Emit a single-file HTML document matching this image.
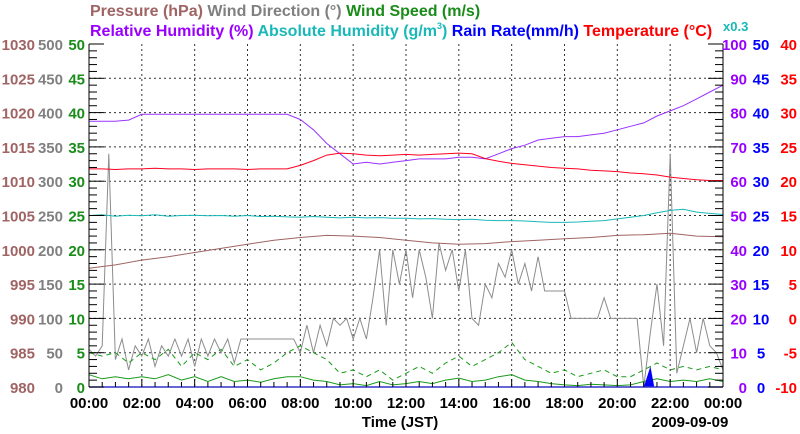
<!DOCTYPE html>
<html><head><meta charset="utf-8">
<style>
html,body{margin:0;padding:0;background:#fff;}
svg{display:block;font-family:"Liberation Sans",Arial,sans-serif;font-weight:bold;}
</style></head>
<body>
<svg id="chart" width="800" height="434" viewBox="0 0 800 434" xmlns="http://www.w3.org/2000/svg">
<g font-size="16">
<text x="90" y="16"><tspan fill="#a06464">Pressure (hPa)</tspan><tspan fill="#808080"> Wind Direction (°)</tspan><tspan fill="#1a8c1a"> Wind Speed (m/s)</tspan></text>
<text x="90" y="36"><tspan fill="#9900ff">Relative Humidity (%)</tspan><tspan fill="#1ab8b8"> Absolute Humidity (g/m<tspan font-size="9" dy="-7">3</tspan><tspan dy="7">)</tspan></tspan><tspan fill="#0000ff"> Rain Rate(mm/h)</tspan><tspan fill="#ff0000"> Temperature (°C)</tspan></text>
<text x="723" y="31" fill="#1ab8b8" font-size="13">x0.3</text>
</g>
<g id="grid"></g>
<g id="series"></g>
<g id="axes"></g>
<text x="400" y="427" text-anchor="middle" font-size="15">Time (JST)</text>
<text x="690" y="427" text-anchor="middle" font-size="15">2009-09-09</text>
</svg>
<script>
// ---- data ----
const hourTicks = ["00:00","02:00","04:00","06:00","08:00","10:00","12:00","14:00","16:00","18:00","20:00","22:00","00:00"];
const pressureTicks = ["980","985","990","995","1000","1005","1010","1015","1020","1025","1030"];
const windDirTicks = ["0","50","100","150","200","250","300","350","400","450","500"];
const windSpeedTicks = ["0","5","10","15","20","25","30","35","40","45","50"];
const rhTicks = ["0","10","20","30","40","50","60","70","80","90","100"];
const rainTicks = ["0","5","10","15","20","25","30","35","40","45","50"];
const tempTicks = ["-10","-5","0","5","10","15","20","25","30","35","40"];
// hourly pressure (hPa), 0..24h
const pressure = [997.3,997.8,998.5,999,999.6,1000.2,1000.8,1001.4,1001.8,1002.1,1002.0,1001.8,1001.4,1001,1000.8,1000.9,1001.2,1001.4,1001.6,1001.8,1002.1,1002.2,1002.4,1002,1001.9];
// half-hourly temperature (°C)
const temperature = [21.8,21.8,21.7,21.8,21.8,21.9,21.8,21.8,21.7,21.8,21.8,21.8,21.7,21.8,21.8,21.8,22.3,23.0,23.8,24.1,24.0,23.8,23.7,23.8,23.9,23.8,23.9,24.0,24.1,24.0,23.3,22.9,22.6,22.4,22.2,22.0,21.9,21.8,21.6,21.5,21.4,21.2,21.1,20.9,20.6,20.4,20.2,20.1,20.1];
// half-hourly relative humidity (%)
const relHumidity = [77.5,77.5,77.5,77.8,79.5,79.5,79.5,79.5,79.5,79.5,79.5,79.5,79.5,79.5,79.5,79.5,78,75,71,68,65,65.5,65,65.5,66,66.5,66.5,66.5,67,67,66.5,68,69.5,70.5,72,72.5,73,73,73.5,74,75,76,77,79,80.5,82,84,86,88];
// half-hourly absolute humidity (x0.3, on RH scale)
const absHumidity = [50,50.2,49.8,50.1,49.9,50.2,49.8,50,50.1,49.9,50,49.8,50,49.7,49.8,49.6,49.5,49.7,49.5,49.3,49.5,49.3,49.4,49.2,49.2,49.0,49.1,48.9,48.8,48.9,48.6,48.5,48.5,48.4,48.2,48.0,48.0,48.1,48.3,48.5,49,49.5,50,50.8,51.5,51.8,51,50.6,50.3];
// 15-minute wind direction (deg)
const windDir = [55,45,60,340,40,70,25,60,45,70,30,60,
 45,70,45,70,30,70,45,70,50,70,35,70,
 70,70,70,70,70,70,70,70,
 50,90,50,90,60,100,90,100,
 70,100,70,130,200,90,200,150,
 200,130,200,160,100,210,170,200,
 140,200,100,90,150,130,180,160,
 200,150,180,140,190,140,140,140,
 140,100,100,100,100,100,130,100,
 100,100,100,100,0,80,150,60,
 340,20,60,100,50,100,60,50,25];
// half-hourly wind speed max and average (m/s)
const windMax = [5,4.5,5,3.5,5,4,5.5,3, 5,4,5.5,3,4,2.5,3.5,5, 6,5,4,2,2.5,1.5,2.5,1, 2,3,2,3.5,4.5,3,4,5, 6.5,4,3,2,2.5,1.5,2,2.5, 1.5,1.5,2.5,3.5,2.5,3,2.5,3, 2.5];
const windAvg = [1.8,1.2,1.5,1.2,1.5,1.2,1.8,1.0, 1.5,0.8,1.5,0.8,1.0,0.7,1.2,1.5, 1.5,1.0,0.8,0.3,0.5,0.2,0.8,0.3, 0.5,0.8,0.5,1.0,1.3,0.8,1.0,1.5, 1.8,1.0,0.8,0.5,0.3,0.2,0.4,0.3, 0.2,0.3,0.8,1.2,0.8,1.0,0.8,1.2, 0.8];
// rain events: hour, rate (mm/h)
const rainHours = [21.0,21.25,21.4];
const rainRates = [0,3.0,0];

// ---- axes functions ----
const X0=89,X1=723,Y0=44,Y1=387;
const xOf=h=>X0+(X1-X0)*h/24;
const yFrac=f=>Y1-(Y1-Y0)*f;
const yP=v=>yFrac((v-980)/50), yWD=v=>yFrac(v/500), yWS=v=>yFrac(v/50),
      yRH=v=>yFrac(v/100), yRain=v=>yFrac(v/50), yT=v=>yFrac((v+10)/50);
const NS="http://www.w3.org/2000/svg";
function mk(tag,attrs,parent){const e=document.createElementNS(NS,tag);for(const k in attrs)e.setAttribute(k,attrs[k]);parent.appendChild(e);return e;}
const grid=document.getElementById('grid'),series=document.getElementById('series'),axes=document.getElementById('axes');

// grid
for(let i=1;i<12;i++){const x=xOf(i*2);
 const l=mk('line',{x1:x,y1:Y0,x2:x,y2:Y1,stroke:'#333','stroke-width':1,'stroke-dasharray':'2,3'},grid);
 
 }
for(let i=1;i<10;i++){const y=yFrac(i/10);
 const l=mk('line',{x1:X0,y1:y,x2:X1,y2:y,stroke:'#333','stroke-width':1,'stroke-dasharray':'2,3'},grid);
 
 }

function line(vals,step,yf,color,name,extra){
 const pts=vals.map((v,i)=>xOf(i*step).toFixed(1)+','+yf(v).toFixed(1)).join(' ');
 const p=mk('polyline',Object.assign({points:pts,fill:'none',stroke:color,'stroke-width':1},extra||{}),series);
 
 
}
line(windDir,0.25,yWD,'#8c8c8c','wind-direction-line');
line(windMax,0.5,yWS,'#1a9a1a','wind-speed-max-line',{'stroke-dasharray':'5,4'});
line(windAvg,0.5,yWS,'#1a9a1a','wind-speed-avg-line');
line(pressure,1,yP,'#a06464','pressure-line');
line(absHumidity,0.5,yRH,'#1ab8b8','absolute-humidity-line');
line(relHumidity,0.5,yRH,'#9933ff','relative-humidity-line');
line(temperature,0.5,yT,'#ff0022','temperature-line');
{const pts=rainHours.map((h,i)=>xOf(h).toFixed(1)+','+yRain(rainRates[i]).toFixed(1)).join(' ');
 const p=mk('polygon',{points:pts,fill:'#0000ff'},series);
 
 }
{const b=mk('line',{x1:X0,y1:Y1,x2:X1,y2:Y1,stroke:'#3333cc','stroke-width':1.5},series);
 
 }

// axes frame
for(const [x1,y1,x2,y2,n] of [[X0,Y0,X0,Y1,'left-axis-line'],[X1,Y0,X1,Y1,'right-axis-line']]){
 const l=mk('line',{x1,y1,x2,y2,stroke:'#000','stroke-width':1},axes);
 
 }
for(let i=0;i<=50;i++){const y=yFrac(i/50),len=(i%5===0)?15:8;
 const a=mk('line',{x1:X0,y1:y,x2:X0+len,y2:y,stroke:'#000'},axes);
 
 
 const b=mk('line',{x1:X1-len,y1:y,x2:X1,y2:y,stroke:'#000'},axes);
 
 }
for(let i=1;i<48;i++){const x=xOf(i*0.5);
 const t=mk('line',{x1:x,y1:Y1,x2:x,y2:Y1-(i%4===0?8:5),stroke:'#000'},axes);
 
 }

function label(txt,x,y,anchor,color,name){
 const t=mk('text',{x,y,'text-anchor':anchor,fill:color,'font-size':15},axes);
 t.textContent=txt;
 
 }
for(let i=0;i<=10;i++){const y=yFrac(i/10)+6;
 label(pressureTicks[i],35,y,'end','#a06464','pressure-tick-label');
 label(windDirTicks[i],63,y,'end','#808080','wind-direction-tick-label');
 label(windSpeedTicks[i],85,y,'end','#1a8c1a','wind-speed-tick-label');
 label(rhTicks[i],747,y,'end','#9900ff','humidity-tick-label');
 label(rainTicks[i],761,y,'middle','#0000ff','rain-tick-label');
 label(tempTicks[i],797,y,'end','#ff0000','temperature-tick-label');}
hourTicks.forEach((t,i)=>label(t,xOf(i*2),408,'middle','#000','x-tick-label'));
</script>
</body></html>
